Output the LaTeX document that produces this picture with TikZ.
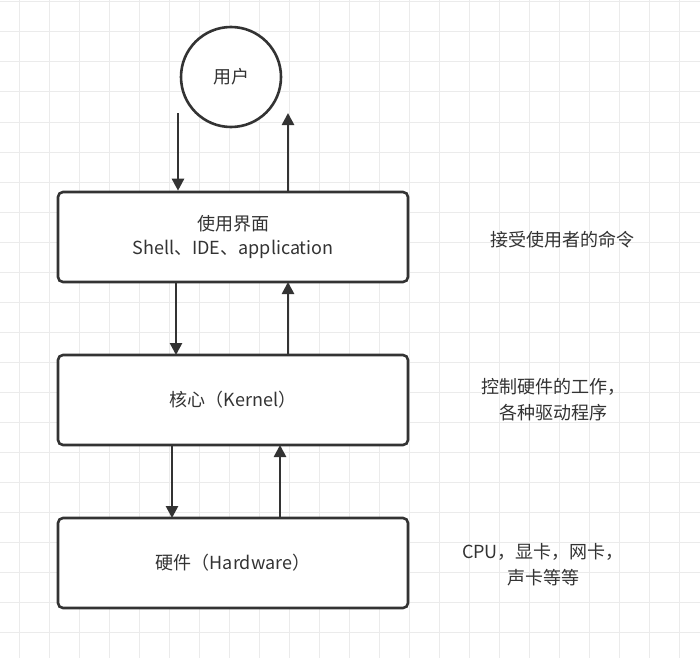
\documentclass[tikz,border=0pt]{standalone}
\usepackage{fontspec}
\setmainfont{Noto Sans CJK SC}
\usetikzlibrary{arrows.meta}
\definecolor{ink}{HTML}{333333}
\definecolor{gridc}{HTML}{EBEBEB}
\begin{document}
\begin{tikzpicture}[x=1pt,y=-1pt,
  box/.style={draw=ink,line width=2.6pt,rounded corners=5pt,minimum width=350pt,minimum height=90pt,text=ink,font=\fontsize{18}{24}\selectfont,align=center,inner sep=0},
  arr/.style={draw=ink,line width=2.6pt,-{Triangle[length=12pt,width=12pt]}},
  lbl/.style={text=ink,font=\fontsize{18}{26}\selectfont,align=center,inner sep=0}]
\useasboundingbox (0,0) rectangle (700,658);
\fill[white] (0,0) rectangle (700,658);
\foreach \x in {19,49,...,700} \draw[gridc,line width=1pt] (\x,0) -- (\x,658);
\foreach \y in {2,32,...,658} \draw[gridc,line width=1pt] (0,\y) -- (700,\y);
\node[circle,draw=ink,line width=2.6pt,minimum size=100pt,fill=white,text=ink,font=\fontsize{18}{24}\selectfont,inner sep=0] (u) at (231,77) {用户};
\node[box,fill=white] (b1) at (233,237) {使用界面\\Shell、IDE、application};
\node[box,fill=white] (b2) at (233,400) {核心（Kernel）};
\node[box,fill=white] (b3) at (233,563) {硬件（Hardware）};
\coordinate (u1) at (178,113);
\coordinate (u2) at (288,113);
\draw[arr] (u1) -- (u1 |- b1.north);
\draw[arr] (u2 |- b1.north) -- (u2);
\draw[arr] (176,282) -- (176,355);
\draw[arr] (288,355) -- (288,282);
\draw[arr] (172,445) -- (172,518);
\draw[arr] (280,518) -- (280,445);
\node[lbl] (t1) at (562,240) {接受使用者的命令};
\node[lbl] (t2) at (553,400) {控制硬件的工作，\\各种驱动程序};
\node[lbl] (t3) at (543,565) {CPU，显卡，网卡，\\声卡等等};
\end{tikzpicture}
\end{document}
